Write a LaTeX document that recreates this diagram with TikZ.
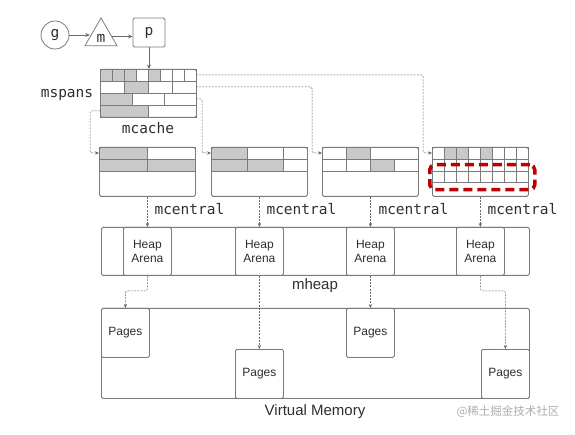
\documentclass[tikz,border=0pt]{standalone}
\usepackage{fontspec}
\setmainfont{Liberation Sans}
\newfontfamily\monofont{DejaVu Sans Mono}
\newfontfamily\cjkfont{Noto Sans CJK SC}
\usetikzlibrary{shapes.geometric,arrows.meta,positioning}
\definecolor{edgegray}{HTML}{7A7A7A}
\definecolor{cellgray}{HTML}{C9C9C9}
\definecolor{linkgray}{HTML}{6A6A6A}
\definecolor{textgray}{HTML}{2E2E2E}
\definecolor{markred}{HTML}{C00000}
\tikzset{
  frame/.style={thick, draw=edgegray, rounded corners=1.5pt, inner sep=0pt, anchor=north west},
  cell/.style={draw=edgegray, line width=0.6pt},
  link/.style={draw=linkgray, line width=0.5pt, dash pattern=on 2pt off 1.2pt, rounded corners=1.5pt, -{Stealth[length=4pt,width=3.4pt]}},
  solidlink/.style={draw=linkgray, line width=0.6pt, -{Stealth[length=4.5pt,width=4pt]}},
  mono/.style={text=textgray, font=\monofont\fontsize{14.5}{16}\selectfont},
  sans/.style={text=textgray, font=\fontsize{12}{14}\selectfont, align=center},
}
\begin{document}
\begin{tikzpicture}[x=1pt,y=-1pt]
\useasboundingbox (0,0) rectangle (575,435);

\node[thick, shape=circle, draw=edgegray, minimum size=28pt, inner sep=0pt, mono](g) at (55,35) {g};
\node[thick, shape=regular polygon, regular polygon sides=3, draw=edgegray, minimum size=37pt, inner sep=0pt](m) at (101,36.5) {};
\node[mono] at (101,38) {m};
\node[thick, shape=rectangle, draw=edgegray, rounded corners=1.5pt, minimum width=32pt, minimum height=29pt, inner sep=0pt, mono](p) at (149,32.5) {p};
\draw[solidlink] (g.east) -- (g.east -| m.west);
\draw[solidlink] (m.east) -- (m.east -| p.west);
\draw[solidlink] (p.south) -- (p.south |- 0,69);

\foreach \i/\f in {0/cellgray,1/cellgray,2/cellgray,3/white,4/cellgray,5/white,6/white,7/white}
  \draw[cell, fill=\f] (100+12*\i,69) rectangle ++(12,12);
\foreach \i/\f in {0/white,1/cellgray,2/white,3/white}
  \draw[cell, fill=\f] (100+24*\i,81) rectangle ++(24,12);
\foreach \i/\f in {0/cellgray,1/white,2/white}
  \draw[cell, fill=\f] (100+32*\i,93) rectangle ++(32,12);
\foreach \i/\f in {0/cellgray,1/white}
  \draw[cell, fill=\f] (100+48*\i,105) rectangle ++(48,12);
\node[frame, minimum width=96pt, minimum height=48pt](mcache) at (100,69) {};
\node[mono](mspans) at (67,95) {mspans};
\node[mono](mcachelbl) at (148,128) {mcache};

\foreach \x/\w/\f in {99/48/cellgray,147/48/white}
  \draw[cell, fill=\f] (\x,147) rectangle ++(\w,12);
\foreach \x/\w/\f in {99/48/cellgray,147/48/cellgray}
  \draw[cell, fill=\f] (\x,159) rectangle ++(\w,12);
\node[frame, minimum width=96pt, minimum height=49pt](central1) at (99,147) {};

\foreach \x/\w/\f in {211/36/cellgray,247/36/white,283/24/white}
  \draw[cell, fill=\f] (\x,147) rectangle ++(\w,12);
\foreach \x/\w/\f in {211/36/cellgray,247/36/cellgray,283/24/white}
  \draw[cell, fill=\f] (\x,159) rectangle ++(\w,12);
\node[frame, minimum width=96pt, minimum height=49pt](central2) at (211,147) {};

\foreach \x/\w/\f in {322/24/white,346/24/cellgray,370/48/white}
  \draw[cell, fill=\f] (\x,147) rectangle ++(\w,12);
\foreach \x/\w/\f in {322/24/white,346/24/white,370/24/cellgray,394/24/white}
  \draw[cell, fill=\f] (\x,159) rectangle ++(\w,12);
\node[frame, minimum width=96pt, minimum height=49pt](central3) at (322,147) {};

\foreach \i/\f in {0/white,1/cellgray,2/cellgray,3/white,4/cellgray,5/white,6/white,7/white}
  \draw[cell, fill=\f] (432+12*\i,147) rectangle ++(12,12);
\foreach \i in {0,...,7}
  \draw[cell] (432+12*\i,159) rectangle ++(12,12);
\foreach \i in {0,...,7}
  \draw[cell] (432+12*\i,171) rectangle ++(12,11);
\node[frame, minimum width=96pt, minimum height=49pt](central4) at (432,147) {};
\node[draw=markred, line width=3.5pt, dash pattern=on 9pt off 5pt, rounded corners=5pt, anchor=north west, minimum width=105pt, minimum height=25pt, inner sep=0pt](focus) at (428,163) {};

\coordinate (row1) at (196,75);
\coordinate (row2) at (196,87);
\coordinate (row3) at (196,99);
\coordinate (row4) at (100,111);
\draw[link] (row1) -| (423,153) -- (central4.west |- 0,153);
\draw[link] (row2) -| (312,153) -- (central3.west |- 0,153);
\draw[link] (row3) -| (202,153) -- (central2.west |- 0,153);
\draw[link] (row4) -| (90,153) -- (central1.west |- 0,153);

\node[mono, anchor=west](lbl1) at (151,209) {mcentral};
\node[mono, anchor=west](lbl2) at (263,209) {mcentral};
\node[mono, anchor=west](lbl3) at (375,209) {mcentral};
\node[mono, anchor=west](lbl4) at (484,209) {mcentral};

\node[frame, minimum width=428pt, minimum height=48pt](heap) at (101,227) {};
\node[frame, fill=white, minimum width=48pt, minimum height=48pt, sans](arena1) at (123,227) {Heap\\Arena};
\node[frame, fill=white, minimum width=48pt, minimum height=48pt, sans](arena2) at (235,227) {Heap\\Arena};
\node[frame, fill=white, minimum width=48pt, minimum height=48pt, sans](arena3) at (346,227) {Heap\\Arena};
\node[frame, fill=white, minimum width=48pt, minimum height=48pt, sans](arena4) at (456,227) {Heap\\Arena};
\node[text=textgray, font=\fontsize{15}{17}\selectfont](mheap) at (315,286) {mheap};

\draw[link] (central1.south) -- (arena1.north);
\draw[link] (central2.south) -- (arena2.north);
\draw[link] (central3.south) -- (arena3.north);
\draw[link] (central4.south) -- (arena4.north);

\node[frame, minimum width=428pt, minimum height=90pt](vm) at (101,308) {};
\node[frame, fill=white, minimum width=48pt, minimum height=49pt, sans](pages1) at (101,308) {Pages};
\node[frame, fill=white, minimum width=48pt, minimum height=49pt, sans](pages2) at (235,349) {Pages};
\node[frame, fill=white, minimum width=48pt, minimum height=49pt, sans](pages3) at (346,308) {Pages};
\node[frame, fill=white, minimum width=48pt, minimum height=49pt, sans](pages4) at (481,349) {Pages};
\node[text=textgray, font=\fontsize{15}{17}\selectfont](vmlbl) at (315,412) {Virtual Memory};

\draw[link] (arena1.south) -- ++(0,15) -| (pages1.north);
\draw[link] (arena2.south) -- (pages2.north);
\draw[link] (arena3.south) -- (pages3.north);
\draw[link] (arena4.south) -- ++(0,15) -| (pages4.north);

\node[text=black!32, font=\cjkfont\fontsize{11.5}{13}\selectfont](mark) at (508,412) {@稀土掘金技术社区};
\end{tikzpicture}
\end{document}
